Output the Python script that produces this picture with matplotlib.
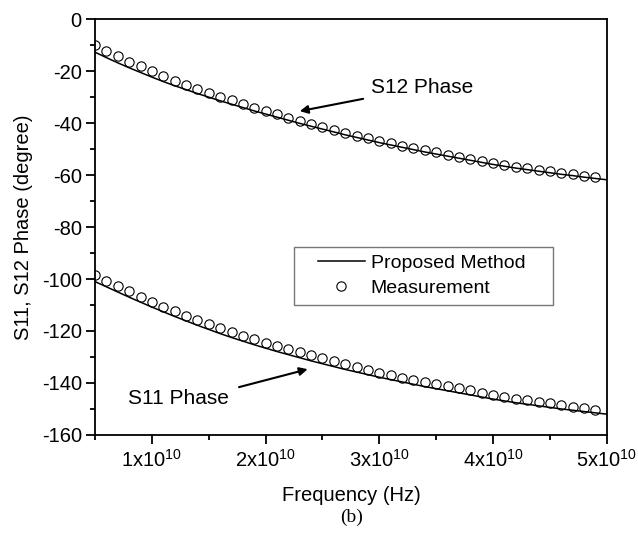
import numpy as np
import matplotlib
matplotlib.use("Agg")
import matplotlib.pyplot as plt
from matplotlib.patches import Rectangle
from matplotlib.ticker import FixedLocator, MultipleLocator, FuncFormatter

plt.rcParams['font.family'] = ['Liberation Sans', 'DejaVu Sans']
plt.rcParams['mathtext.fontset'] = 'custom'
plt.rcParams['mathtext.rm'] = 'Liberation Sans'
plt.rcParams['mathtext.it'] = 'Liberation Sans:italic'
plt.rcParams['axes.unicode_minus'] = False

# frequency in GHz (line is sampled every 1 GHz, measurement 5..49 GHz)
freq_line = list(range(5, 51))
freq_meas = list(range(5, 50))

s12_model = [-12.7, -14.8, -16.8, -18.7, -20.5, -22.3, -24.0, -25.6, -27.1, -28.6,
             -30.0, -31.4, -32.7, -34.0, -35.3, -36.5, -37.7, -38.9, -40.1, -41.2,
             -42.3, -43.4, -44.5, -45.5, -46.5, -47.5, -48.4, -49.3, -50.2, -51.1,
             -51.9, -52.7, -53.5, -54.3, -55.1, -55.9, -56.6, -57.3, -57.9, -58.5,
             -59.1, -59.7, -60.2, -60.8, -61.3, -61.8]
s12_meas = [-10.0, -12.2, -14.3, -16.3, -18.2, -20.1, -21.9, -23.6, -25.2, -26.8,
            -28.3, -29.8, -31.2, -32.6, -34.0, -35.3, -36.6, -37.9, -39.2, -40.4,
            -41.6, -42.8, -43.9, -44.9, -45.9, -46.9, -47.8, -48.7, -49.6, -50.5,
            -51.3, -52.1, -52.9, -53.7, -54.5, -55.3, -56.0, -56.7, -57.3, -57.9,
            -58.5, -59.1, -59.6, -60.2, -60.7]

s11_model = [-101.0, -103.0, -105.0, -107.0, -108.9, -110.8, -112.6, -114.4, -116.1, -117.8,
             -119.4, -121.0, -122.5, -123.9, -125.3, -126.6, -127.9, -129.1, -130.3, -131.5,
             -132.6, -133.7, -134.8, -135.8, -136.8, -137.8, -138.7, -139.6, -140.5, -141.4,
             -142.2, -143.0, -143.8, -144.6, -145.4, -146.2, -146.9, -147.6, -148.2, -148.8,
             -149.4, -150.0, -150.5, -151.0, -151.5, -152.0]
s11_meas = [-98.5, -100.6, -102.7, -104.8, -106.8, -108.8, -110.6, -112.4, -114.1, -115.8,
            -117.4, -119.0, -120.5, -121.9, -123.2, -124.5, -125.8, -127.0, -128.2, -129.4,
            -130.5, -131.6, -132.7, -133.8, -134.9, -136.0, -137.0, -137.9, -138.8, -139.7,
            -140.5, -141.3, -142.1, -142.9, -143.8, -144.6, -145.3, -146.0, -146.7, -147.3,
            -147.9, -148.5, -149.1, -149.8, -150.4]

fl = np.array(freq_line) * 1e9
fm = np.array(freq_meas) * 1e9

fig = plt.figure(figsize=(6.38, 5.33), dpi=100)
ax = fig.add_axes([0.149, 0.184, 0.802, 0.780])

ax.plot(fl, s12_model, color='black', lw=1.1, label='Proposed Method')
ax.plot(fm, s12_meas, 'o', mfc='none', mec='black', ms=6.7, mew=0.8, label='Measurement')
ax.plot(fl, s11_model, color='black', lw=1.1)
ax.plot(fm, s11_meas, 'o', mfc='none', mec='black', ms=6.7, mew=0.8)

ax.set_xlim(5e9, 5e10)
ax.set_ylim(-160, 0)

ax.xaxis.set_major_locator(FixedLocator([1e10, 2e10, 3e10, 4e10, 5e10]))
ax.xaxis.set_minor_locator(MultipleLocator(5e9))
ax.xaxis.set_major_formatter(FuncFormatter(lambda v, p: r'%dx10$^{10}$' % round(v / 1e10)))
ax.yaxis.set_major_locator(MultipleLocator(20))
ax.yaxis.set_minor_locator(MultipleLocator(10))

ax.tick_params(which='both', direction='out', top=False, right=False, width=1.3, labelsize=14.5)
ax.tick_params(which='major', length=6.5)
ax.tick_params(which='minor', length=3.6)
ax.tick_params(axis='x', which='major', pad=3.5)
ax.tick_params(axis='y', which='major', pad=3)
for sp in ax.spines.values():
    sp.set_linewidth(1.3)

ax.set_xlabel('Frequency (Hz)', fontsize=14.5, labelpad=11)
ax.set_ylabel('S11, S12 Phase (degree)', fontsize=14.5, labelpad=6)
fig.text(0.551, 0.030, '(b)', fontsize=14, family='Liberation Serif', ha='center', va='center')

ax.annotate('S12 Phase', xy=(23.0e9, -35.4), xytext=(29.3e9, -26.2), fontsize=15,
            va='center', ha='left',
            arrowprops=dict(arrowstyle='-|>', color='black', lw=1.5, shrinkA=4, shrinkB=0,
                            mutation_scale=12))
ax.annotate('S11 Phase', xy=(23.7e9, -134.7), xytext=(7.87e9, -145.8), fontsize=15,
            va='center', ha='left',
            arrowprops=dict(arrowstyle='-|>', color='black', lw=1.5, shrinkA=4, shrinkB=0,
                            mutation_scale=12,
                            relpos=(1.05, 1.0)))

# legend box drawn separately so the side padding can be wider than the top/bottom
ax.add_patch(Rectangle((0.389, 0.3125), 0.506, 0.14, transform=ax.transAxes,
                       facecolor='white', edgecolor='#777777', lw=1.0, zorder=4))
leg = ax.legend(loc='upper left', bbox_to_anchor=(0.436, 0.434), fontsize=14,
                frameon=False, handlelength=2.4, borderpad=0, labelspacing=0.35,
                handletextpad=0.3, borderaxespad=0)
leg.set_zorder(5)

fig.savefig('out.png', dpi=100)
